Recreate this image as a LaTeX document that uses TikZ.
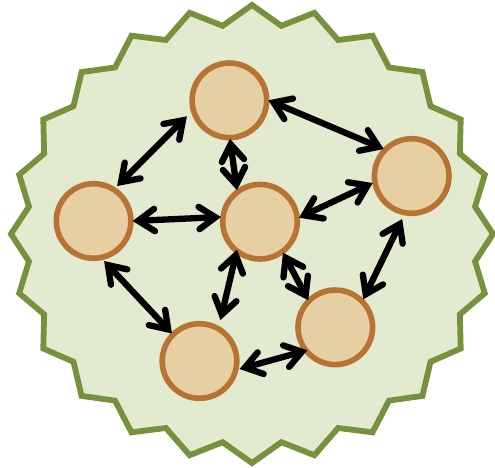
\documentclass[tikz,border=0pt]{standalone}
\usetikzlibrary{arrows.meta}
\definecolor{starfill}{HTML}{E2EACF}
\definecolor{starline}{HTML}{76923C}
\definecolor{circfill}{HTML}{E6CFA3}
\definecolor{circline}{HTML}{B87333}
\pgfdeclarearrow{
  name=openhead,
  setup code={\pgfarrowssettipend{0pt}\pgfarrowssetbackend{-22pt}\pgfarrowssetlineend{-7pt}\pgfarrowssetvisualbackend{-7pt}},
  drawing code={\pgfsetlinewidth{6.3pt}\pgfsetroundcap\pgfsetmiterjoin\pgfsetdash{}{0pt}%
    \pgfpathmoveto{\pgfqpoint{-22pt}{11.2pt}}\pgfpathlineto{\pgfqpoint{-5.6pt}{0pt}}\pgfpathlineto{\pgfqpoint{-22pt}{-11.2pt}}\pgfusepathqstroke}
}
\tikzset{
  x=1pt,y=-1pt,
  stateball/.style={circle,draw=circline,fill=circfill,line width=5.6pt,minimum size=74.6pt,inner sep=0pt,outer sep=0pt},
  starshape/.style={draw=starline,fill=starfill,line width=5.8pt,line join=miter,miter limit=10},
  conn/.style={line width=6.3pt,black,openhead-openhead},
}
\newcommand{\offs}[3]{([shift={(#2,#3)}]#1.center)}
\begin{document}
\begin{tikzpicture}
\useasboundingbox (0,0) rectangle (495,467);
\begin{scope}[shift={(252,234)}]
\draw[starshape]
  \foreach \i in {0,...,23}{
    \ifnum\i=0 (90:241 and 229)\else -- ({90+15*\i}:241 and 229)\fi
    -- ({97.5+15*\i}:225 and 210)
  } -- cycle;
\end{scope}
\node[stateball] (A) at (229.4,100.3) {};
\node[stateball] (B) at (411.7,176) {};
\node[stateball] (C) at (260,221.7) {};
\node[stateball] (D) at (93.6,221) {};
\node[stateball] (E) at (335.3,327.3) {};
\node[stateball] (F) at (199.5,361) {};
\draw[conn] \offs{A}{-42.5}{16} -- \offs{D}{23.5}{-35};
\draw[conn] \offs{A}{39}{0} -- \offs{B}{-28}{-27};
\draw[conn] \offs{A}{0.5}{38.5} -- \offs{C}{-23}{-31.5};
\draw[conn] \offs{C}{-39}{-4.7} -- \offs{D}{39}{0};
\draw[conn] \offs{C}{39}{-4} -- \offs{B}{-39}{7};
\draw[conn] \offs{C}{23}{31} -- \offs{E}{-27}{-27};
\draw[conn] \offs{C}{-23}{28} -- \offs{F}{21}{-41};
\draw[conn] \offs{B}{-9.5}{43} -- \offs{E}{28}{-28};
\draw[conn] \offs{D}{10.5}{40} -- \offs{F}{-27.5}{-27.5};
\draw[conn] \offs{E}{-28}{23} -- \offs{F}{40}{8};
\end{tikzpicture}
\end{document}
